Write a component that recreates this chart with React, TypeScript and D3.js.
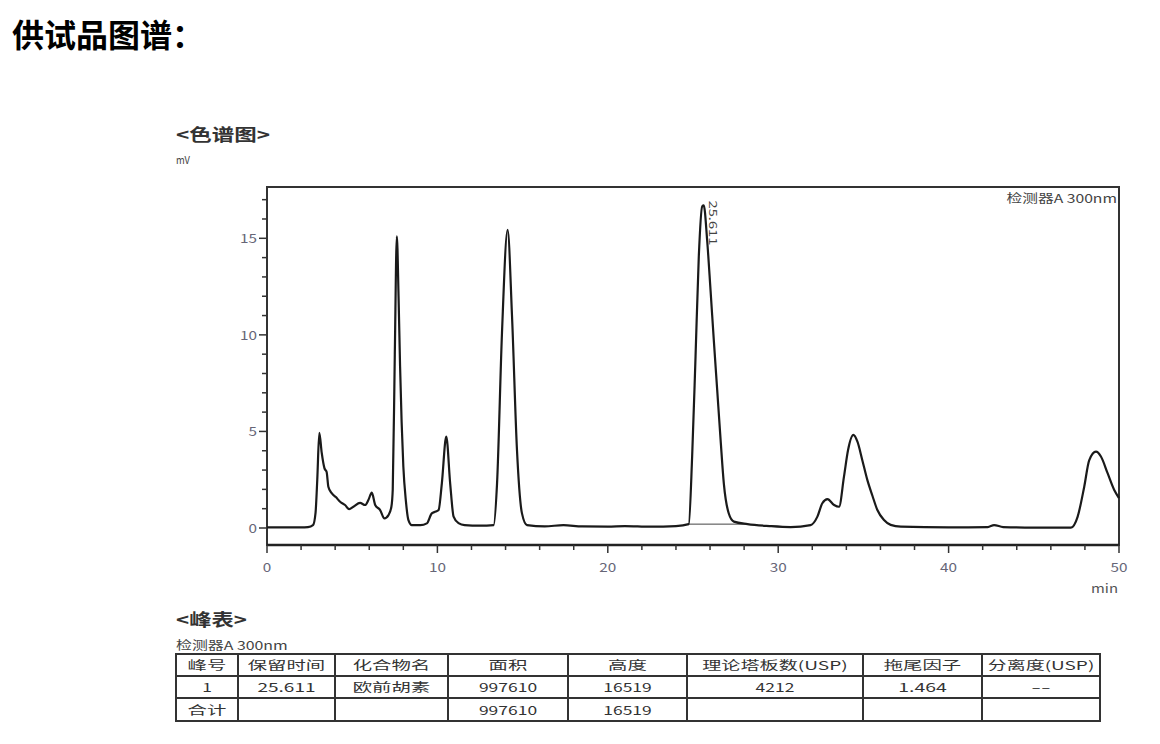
import React from "react";
import * as d3 from "d3";

// chromatogram signal: [time (min), signal (mV)]
const signalTimes = [
  0, 1, 2, 2.4, 2.7, 2.85, 2.95, 3.07, 3.21, 3.37, 3.5, 3.6, 3.8, 4.04, 4.29, 4.58, 4.82, 5.07, 5.46, 5.76,
  5.95, 6.15, 6.35, 6.64, 6.89, 7.13, 7.3, 7.38, 7.5, 7.62, 7.72, 7.81, 7.9, 8.0, 8.15, 8.3, 8.5, 9.0, 9.38,
  9.67, 9.9, 10.07, 10.26, 10.52, 10.75, 10.95, 11.24, 11.6, 12.5, 13.3, 13.5, 13.79, 14.12, 14.38, 14.67,
  14.96, 15.26, 16.3, 17.4, 18.5, 20, 21, 22.5, 24, 24.75, 24.95, 25.15, 25.34, 25.54, 25.63, 25.83, 26.03,
  26.22, 26.42, 26.62, 26.81, 27.1, 27.4, 28.2, 29.5, 30.73, 31.9, 32.3, 32.59, 32.89, 33.28, 33.57, 33.86,
  34.1, 34.41, 34.65, 34.94, 35.23, 35.53, 35.82, 36.21, 36.6, 37.2, 40, 42.3, 42.67, 43.2, 45, 47.18, 47.57,
  47.96, 48.25, 48.65, 48.94, 49.33, 49.72, 50,
];
const signalValues = [
  0.03, 0.03, 0.03, 0.05, 0.15, 0.8, 2.5, 4.93, 3.9, 3.1, 2.9, 2.14, 1.8, 1.6, 1.36, 1.19, 0.98, 1.1, 1.3, 1.19,
  1.45, 1.83, 1.19, 0.93, 0.5, 0.67, 1.1, 2.0, 9.0, 15.1, 12.0, 8.36, 5.5, 3.2, 1.4, 0.41, 0.15, 0.15, 0.24,
  0.76, 0.85, 0.93, 2.3, 4.73, 2.3, 0.59, 0.25, 0.15, 0.12, 0.15, 2.3, 10.1, 15.44, 10.95, 4.04,
  0.77, 0.15, 0.08, 0.15, 0.08, 0.07, 0.1, 0.07, 0.1, 0.2, 3.7, 8.9, 14.05, 16.65, 16.7, 14.9, 12.3,
  9.74, 7.15, 4.56, 2.3, 0.75, 0.33, 0.2, 0.1, 0.05, 0.15, 0.59, 1.28, 1.49, 1.19, 1.1, 2.66,
  4.04, 4.82, 4.47, 3.5, 2.49, 1.67, 0.93, 0.41, 0.16, 0.07, 0.03, 0.05, 0.15, 0.05, 0.02, 0.02, 0.58,
  2.14, 3.5, 3.95, 3.7, 2.84, 1.97, 1.55,
];

// integration baseline under the labelled peak
const baselineTimes = [24.75, 28.2];
const baselineValues = [0.2, 0.2];

const xMajorTicks = [0, 10, 20, 30, 40, 50];
const yMajorTicks = [0, 5, 10, 15];

const peakLabelTime = 25.611;
const peakLabelValue = 16.7;
const peakLabelText = "25.611";

// peak table
const tableHeaders = ["峰号", "保留时间", "化合物名", "面积", "高度", "理论塔板数(USP)", "拖尾因子", "分离度(USP)"];
const tableRow1 = ["1", "25.611", "欧前胡素", "997610", "16519", "4212", "1.464", "--"];
const tableTotal = ["合计", "", "", "997610", "16519", "", "", ""];

const FONT = "'Noto Sans CJK SC', 'Noto Sans', sans-serif";

// width of a string in a fixed-pitch layout: full-width chars count double
function monoUnits(s: string) {
  let n = 0;
  for (const ch of s) n += ch.charCodeAt(0) > 0x2e80 ? 2 : 1;
  return n;
}

function MonoText(props: {
  x: number;
  y: number;
  text: string;
  unit: number;
  size: number;
  anchor?: string;
  fill?: string;
  weight?: number;
  transform?: string;
}) {
  const { x, y, text, unit, size, anchor = "start", fill = "#333", weight = 400, transform } = props;
  if (!text) return null;
  return (
    <text
      x={x}
      y={y}
      transform={transform}
      textAnchor={anchor}
      fontFamily={FONT}
      fontSize={size}
      fontWeight={weight}
      fill={fill}
      textLength={monoUnits(text) * unit}
      lengthAdjust="spacingAndGlyphs"
    >
      {text}
    </text>
  );
}

export default function App() {
  const left = 267, right = 1119, top = 187, bottom = 545;
  const x = d3.scaleLinear().domain([0, 50]).range([left, right]);
  const y = d3.scaleLinear().domain([0, 15]).range([528, 238.3]);

  const pts: [number, number][] = signalTimes.map((t, i) => [t, signalValues[i]]);
  const line = d3
    .line<[number, number]>()
    .x((d) => x(d[0]))
    .y((d) => y(d[1]))
    .curve(d3.curveMonotoneX);

  const basePts: [number, number][] = baselineTimes.map((t, i) => [t, baselineValues[i]]);
  const baseLine = d3.line<[number, number]>().x((d) => x(d[0])).y((d) => y(d[1]));

  const xMinor = d3.range(0, 50.001, 2);
  const yMinor = d3.range(0, 17.001, 1);

  const colX = [176, 238, 335, 448, 568, 687, 863, 982, 1100];
  const rowY = [654, 676, 698, 721];
  const rows = [tableHeaders, tableRow1, tableTotal];

  return (
    <svg
      width={1160}
      height={744}
      style={{ position: "absolute", left: 0, top: 0, display: "block", background: "#fff" }}
    >
      <text x={12} y={47} fontFamily={FONT} fontWeight={700} fontSize={32} fill="#000">
        供试品图谱：
      </text>

      <MonoText x={176} y={141} text="<色谱图>" unit={11.75} size={17} weight={700} fill="#333" />
      <MonoText x={176} y={164} text="mV" unit={7} size={11} fill="#444" />

      {/* frame */}
      <rect x={left} y={top} width={right - left} height={bottom - top} fill="none" stroke="#333" strokeWidth={2} />
      <line x1={left} x2={right} y1={bottom} y2={bottom} stroke="#222" strokeWidth={2.5} />

      {/* y ticks */}
      {yMinor.map((v) => (
        <line key={"ym" + v} x1={left - (v % 5 === 0 ? 8 : 5)} x2={left} y1={y(v)} y2={y(v)} stroke="#333" strokeWidth={1.5} />
      ))}
      {yMajorTicks.map((v) => (
        <MonoText key={"yl" + v} x={257} y={y(v) + 5} text={String(v)} unit={8.5} size={12} anchor="end" fill="#667" />
      ))}

      {/* x ticks */}
      {xMinor.map((t) => (
        <line key={"xm" + t} x1={x(t)} x2={x(t)} y1={bottom} y2={bottom + (t % 10 === 0 ? 8 : 5)} stroke="#333" strokeWidth={1.5} />
      ))}
      {xMajorTicks.map((t) => (
        <MonoText key={"xl" + t} x={x(t)} y={572} text={String(t)} unit={8.5} size={12} anchor="middle" fill="#667" />
      ))}
      <MonoText x={1118} y={593} text="min" unit={9} size={12} anchor="end" fill="#555" />

      <MonoText x={1117} y={203} text="检测器A 300nm" unit={8.5} size={12} anchor="end" fill="#444" />

      <path d={baseLine(basePts) || ""} fill="none" stroke="#444" strokeWidth={1} />
      <path d={line(pts) || ""} fill="none" stroke="#1a1a1a" strokeWidth={2.2} strokeLinejoin="round" />

      <MonoText
        x={0}
        y={0}
        transform={`translate(${x(peakLabelTime) + 6},${y(peakLabelValue) - 5}) rotate(90)`}
        text={peakLabelText}
        unit={7.5}
        size={11}
        fill="#444"
      />

      {/* peak table */}
      <MonoText x={176} y={626} text="<峰表>" unit={11.8} size={17} weight={700} fill="#333" />
      <MonoText x={176} y={650} text="检测器A 300nm" unit={8.6} size={12} fill="#444" />
      <rect x={colX[0]} y={rowY[0]} width={colX[8] - colX[0]} height={rowY[3] - rowY[0]} fill="none" stroke="#333" strokeWidth={2} />
      {rowY.slice(1, 3).map((yy) => (
        <line key={"r" + yy} x1={colX[0]} x2={colX[8]} y1={yy} y2={yy} stroke="#333" strokeWidth={2} />
      ))}
      {colX.slice(1, 8).map((xx) => (
        <line key={"c" + xx} x1={xx} x2={xx} y1={rowY[0]} y2={rowY[3]} stroke="#333" strokeWidth={2} />
      ))}
      {rows.map((row, ri) =>
        row.map((cell, ci) => (
          <MonoText
            key={ri + "-" + ci}
            x={(colX[ci] + colX[ci + 1]) / 2}
            y={(rowY[ri] + rowY[ri + 1]) / 2 + 5}
            text={cell}
            unit={9.7}
            size={12}
            anchor="middle"
            fill="#333"
          />
        ))
      )}
    </svg>
  );
}
